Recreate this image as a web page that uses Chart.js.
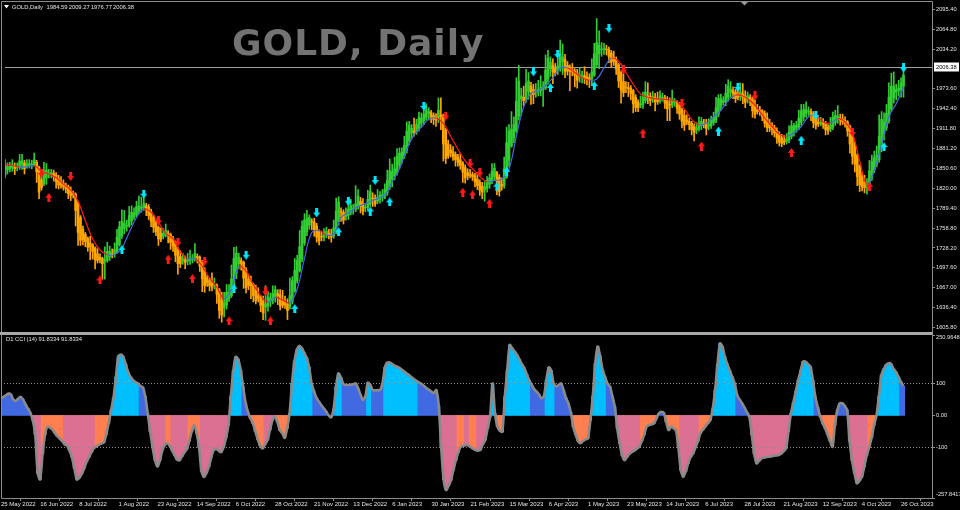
<!DOCTYPE html>
<html>
<head>
<meta charset="utf-8">
<script src="https://cdn.jsdelivr.net/npm/chart.js@4.4.0/dist/chart.umd.min.js"></script>
<style>
  html, body { margin: 0; padding: 0; background: #000; }
  #wrap { position: relative; width: 960px; height: 510px; background: #000; overflow: hidden; }
  #price { position: absolute; left: 0; top: 0; }
  #cci { position: absolute; left: 0; top: 334px; }
</style>
</head>
<body>
<div id="wrap">
  <canvas id="price" width="960" height="334"></canvas>
  <canvas id="cci" width="960" height="176"></canvas>
</div>
<script>
// GOLD daily, Heiken Ashi bars + smoothed MA + signal arrows, CCI(14) below
// one bar per trading day, 25 May 2022 .. 27 Oct 2023

const symbolName = 'GOLD,Daily';
const chartTitle = 'GOLD, Daily';
const lastBar = [1984.59, 2009.27, 1976.77, 2006.38];   // O H L C of the last bar
const cciLabel = 'D1 CCI (14) 91.8334 91.8334';

const dateTicks = ['25 May 2022', '16 Jun 2022', '8 Jul 2022', '1 Aug 2022', '23 Aug 2022', '14 Sep 2022',
  '6 Oct 2022', '28 Oct 2022', '21 Nov 2022', '13 Dec 2022', '6 Jan 2023', '30 Jan 2023', '21 Feb 2023',
  '15 Mar 2023', '6 Apr 2023', '1 May 2023', '23 May 2023', '14 Jun 2023', '6 Jul 2023', '28 Jul 2023',
  '21 Aug 2023', '12 Sep 2023', '4 Oct 2023', '26 Oct 2023'];
const barsPerTick = 16;

const priceTicks = [1605.8, 1636.4, 1667.0, 1697.6, 1728.2, 1758.8, 1789.4, 1820.0, 1850.6, 1881.2,
  1911.8, 1942.4, 1973.6, 2034.2, 2064.8, 2095.4];
const cciTicks = [-257.8417, -100, 0, 100, 250.9648];
const cciTickText = ['-257.8417', '-100', '0.00', '100', '250.9648'];
const cciLevels = [100, -100];

// Heiken Ashi body (open / close) and wick lengths above / below the body
const haOpen = [
  1840,1848,1850,1852,1854,1852,1852,1857,1859,1855, 1855,1856,1856,1860,1852,1833,1827,1836,1842,1842,
  1843,1840,1835,1830,1827,1824,1822,1817,1813,1811, 1798,1775,1757,1749,1743,1736,1733,1728,1719,1714,
  1712,1708,1709,1715,1719,1718,1722,1733,1747,1758, 1762,1762,1770,1776,1779,1785,1789,1790,1793,1791,
  1784,1776,1768,1760,1751,1746,1748,1751,1749,1743, 1737,1727,1715,1709,1710,1708,1709,1711,1711,1715,
  1714,1707,1694,1682,1678,1674,1671,1671,1664,1648, 1636,1640,1650,1655,1667,1689,1704,1709,1706,1694,
  1680,1675,1672,1663,1655,1653,1646,1637,1639,1646, 1648,1653,1658,1656,1648,1644,1642,1637,1646,1662,
  1678,1693,1711,1736,1753,1763,1769,1768,1762,1753, 1746,1745,1748,1751,1749,1747,1753,1769,1784,1783,
  1777,1778,1783,1788,1788,1792,1800,1796,1790,1790, 1796,1805,1804,1800,1803,1806,1808,1813,1822,1834,
  1839,1844,1856,1865,1870,1878,1893,1905,1908,1907, 1912,1920,1924,1929,1935,1936,1932,1929,1927,1933,
  1932,1910,1888,1879,1876,1872,1868,1864,1859,1852, 1844,1841,1841,1839,1834,1829,1823,1818,1820,1826,
  1831,1838,1844,1837,1826,1824,1837,1863,1885,1898, 1908,1931,1958,1960,1957,1969,1977,1972,1968,1968,
  1970,1972,1974,1988,2004,2009,2004,2001,2004,2015, 2018,2009,2004,2002,2000,1997,1991,1992,1993,1991,
  1990,1988,1994,2010,2027,2033,2034,2034,2033,2028, 2021,2018,2010,1998,1984,1976,1975,1974,1970,1960,
  1952,1948,1949,1955,1962,1961,1958,1960,1956,1955, 1958,1959,1955,1949,1948,1952,1953,1948,1941,1932,
  1925,1923,1920,1915,1910,1912,1916,1920,1920,1916, 1916,1921,1925,1934,1946,1952,1953,1960,1968,1970,
  1968,1963,1961,1965,1962,1957,1960,1957,1948,1941, 1940,1939,1935,1928,1920,1917,1913,1909,1903,1897,
  1893,1892,1894,1900,1908,1912,1914,1921,1930,1935, 1938,1938,1935,1928,1922,1920,1921,1919,1914,1911,
  1914,1921,1926,1928,1926,1924,1922,1915,1901,1885, 1871,1854,1839,1830,1825,1826,1836,1848,1857,1864,
  1882,1904,1913,1924,1942,1959,1968,1970,1972,1977];
const haClose = [
  1856,1853,1854,1856,1850,1853,1862,1862,1850,1856, 1858,1857,1864,1845,1814,1821,1846,1848,1843,1844,
  1838,1830,1825,1825,1822,1819,1812,1809,1810,1786, 1752,1740,1741,1738,1729,1730,1723,1710,1709,1710,
  1704,1710,1723,1723,1718,1726,1745,1761,1769,1766, 1763,1778,1783,1782,1792,1793,1791,1796,1790,1778,
  1769,1760,1753,1742,1742,1750,1755,1748,1737,1731, 1717,1704,1704,1711,1706,1710,1713,1712,1720,1713,
  1700,1681,1670,1675,1670,1668,1672,1657,1632,1625, 1644,1660,1660,1680,1712,1720,1714,1704,1682,1667,
  1670,1670,1655,1647,1651,1640,1628,1642,1653,1651, 1658,1664,1655,1639,1640,1641,1632,1655,1678,1694,
  1709,1730,1762,1771,1774,1775,1768,1756,1745,1739, 1745,1752,1754,1748,1745,1759,1785,1799,1783,1771,
  1780,1788,1793,1789,1796,1808,1792,1785,1791,1803, 1815,1804,1796,1806,1809,1810,1819,1832,1847,1845,
  1850,1869,1874,1876,1886,1908,1917,1912,1906,1918, 1929,1928,1934,1941,1938,1929,1926,1925,1940,1930,
  1888,1866,1870,1874,1869,1864,1860,1855,1845,1836, 1839,1840,1838,1830,1824,1817,1814,1822,1832,1836,
  1846,1851,1830,1815,1823,1850,1890,1908,1911,1918, 1954,1985,1962,1955,1981,1985,1967,1964,1969,1972,
  1975,1976,2002,2020,2014,1999,1997,2008,2027,2022, 2000,2000,2000,1999,1994,1986,1993,1994,1989,1989,
  1987,1999,2027,2044,2040,2034,2035,2033,2023,2014, 2015,2003,1985,1971,1967,1975,1973,1966,1950,1944,
  1944,1950,1960,1968,1960,1955,1961,1953,1953,1962, 1960,1951,1942,1948,1957,1954,1943,1934,1923,1917,
  1922,1918,1910,1906,1913,1920,1923,1919,1912,1917, 1925,1929,1944,1958,1958,1955,1966,1977,1972,1966,
  1958,1960,1968,1960,1952,1962,1955,1939,1934,1938, 1938,1930,1920,1913,1913,1910,1905,1897,1891,1889,
  1891,1896,1906,1916,1916,1917,1928,1939,1941,1941, 1939,1932,1921,1917,1919,1921,1918,1910,1909,1917,
  1929,1932,1931,1925,1922,1920,1908,1888,1869,1857, 1838,1825,1822,1821,1827,1847,1861,1867,1871,1900,
  1926,1922,1935,1960,1977,1977,1972,1974,1982,1994];
const wickUp = [
  8,6,6,8,5,6,10,10,4,8, 6,6,10,3,2,12,14,10,6,5, 5,4,5,8,6,4,3,5,3,2, 2,3,5,3,2,10,2,2,8,5,
  2,20,14,8,8,10,12,8,18,20, 8,14,10,8,8,15,15,10,4,4, 4,3,3,2,8,8,10,4,2,3, 2,2,9,9,6,10,12,6,15,4,
  2,2,4,4,4,16,10,2,2,12, 16,12,12,22,17,10,6,4,2,4, 8,10,2,8,12,2,8,28,8,8, 12,6,6,8,15,10,8,27,6,18,
  8,25,8,10,12,4,4,6,4,3, 8,6,6,6,8,12,20,8,6,4, 10,8,10,6,28,10,6,8,4,14, 10,8,6,12,6,8,8,16,18,12,
  18,12,8,6,14,14,6,6,20,8, 8,8,8,9,6,4,4,6,19,26, 2,2,6,8,8,4,4,10,2,4, 6,8,4,4,10,4,6,8,6,6,
  12,7,2,4,10,18,24,10,27,12, 36,24,12,17,22,13,6,8,12,14, 18,8,23,12,8,10,8,12,21,20, 8,6,6,10,4,6,12,6,14,8,
  6,20,16,37,22,10,8,6,4,4, 10,4,2,2,12,8,8,4,2,4, 4,12,8,16,20,6,8,6,12,8, 6,4,6,10,14,4,2,4,2,8,
  8,5,3,4,8,10,6,6,6,10, 6,8,16,6,7,6,14,10,12,6, 4,8,14,16,8,6,4,3,8,8, 6,2,4,8,6,4,4,4,4,6,
  8,8,10,8,4,6,12,10,8,12, 6,4,3,6,8,8,6,4,4,12, 8,8,16,6,8,6,2,2,2,6, 2,2,6,10,8,16,10,10,14,33,
  12,14,14,22,20,22,8,12,8,15];
const wickDown = [
  4,6,5,6,9,5,3,8,8,4, 4,6,2,16,10,4,3,10,6,6, 7,10,6,5,5,6,8,8,5,24, 20,8,8,8,6,20,12,14,4,5,
  24,28,3,6,5,4,2,2,4,8, 8,2,6,4,3,4,6,4,12,6, 8,8,6,10,4,4,3,12,11,8, 10,16,6,6,10,6,6,6,3,8,
  8,20,10,6,8,6,6,14,12,11, 14,6,4,3,2,8,8,10,16,8, 6,20,10,5,6,10,10,20,8,8, 6,8,14,6,4,6,14,3,4,2,
  4,2,4,4,6,6,12,10,8,6, 6,6,4,6,8,4,3,6,14,6, 6,6,4,8,4,4,10,6,6,4, 4,12,4,4,6,6,4,4,4,12,
  6,4,6,6,4,4,6,8,6,4, 4,6,6,4,10,8,8,10,6,20, 26,8,4,6,6,10,6,6,16,8, 6,4,6,8,6,8,10,18,6,6,
  4,6,20,7,6,4,2,10,2,8, 2,6,26,8,5,12,18,14,8,6, 8,26,2,8,12,18,4,6,4,20, 10,6,30,6,18,12,8,10,8,10,
  12,10,2,4,23,10,8,8,10,8, 6,8,10,20,6,8,12,10,14,6, 6,4,6,4,10,8,6,14,4,4, 4,8,18,24,4,6,8,8,10,8,
  4,8,8,13,6,4,6,6,10,6, 4,4,4,4,6,4,6,6,8,8, 6,4,6,10,8,6,8,10,6,4, 6,6,6,6,6,8,6,8,6,5,
  4,4,4,4,8,6,4,4,6,6, 6,8,8,6,4,4,6,8,6,4, 4,4,6,8,4,6,8,14,12,12, 14,10,6,8,14,2,4,4,4,4,
  6,10,4,4,4,8,12,8,12,17];

// smoothed moving average, read every 3rd bar
const maStep = 3;
const maValue = [
  1857,1855,1853,1853,1855,1846,1842,1836,1826,1817, 1800,1770,1742,1725,1718,1718,1728,1752,1775,1788,
  1783,1768,1751,1742,1722,1712,1712,1700,1682,1668, 1650,1665,1700,1692,1672,1655,1645,1652,1648,1644,
  1665,1712,1752,1755,1748,1750,1775,1782,1790,1795, 1800,1804,1810,1830,1850,1880,1902,1914,1926,1928,
  1920,1900,1880,1862,1850,1838,1830,1832,1834,1850, 1900,1945,1966,1970,1978,1990,2005,2005,1998,1990,
  1986,1988,2005,2020,2015,1998,1980,1965,1960,1958, 1957,1956,1953,1942,1926,1918,1920,1930,1940,1955,
  1963,1962,1955,1943,1928,1915,1903,1900,1905,1915, 1930,1932,1922,1920,1927,1922,1905,1862,1826,1848,
  1888,1930,1950,1975];

// signal arrows: bar index and price level
const cyanDownBar = [57, 99, 128, 141, 152, 172, 217, 227, 248, 301, 333, 369];
const cyanDownAt = [1811, 1717, 1782, 1800, 1832, 1946, 1999, 2026, 2066, 1975, 1932, 2005];
const cyanUpBar = [48, 94, 119, 137, 150, 158, 202, 206, 224, 242, 293, 327, 361];
const cyanUpAt = [1726, 1666, 1635, 1753, 1785, 1799, 1823, 1846, 1975, 1978, 1908, 1894, 1884];
const redDownBar = [15, 27, 63, 71, 82, 107, 181, 191, 195, 254, 278, 308, 348];
const redDownAt = [1843, 1838, 1770, 1737, 1708, 1661, 1931, 1858, 1844, 2002, 1950, 1962, 1906];
const redUpBar = [18, 39, 67, 77, 92, 109, 188, 192, 199, 262, 286, 323, 355];
const redUpAt = [1806, 1679, 1711, 1681, 1616, 1616, 1814, 1810, 1797, 1905, 1885, 1875, 1823];

// CCI(14) per bar
const cci = [
  53,58,63,68,66,50,45,52,58,50, 35,22,8,-15,-60,-180,-200,-120,-60,-35,
  -38,-44,-55,-65,-72,-80,-90,-95,-110,-130, -165,-200,-195,-183,-165,-145,-130,-115,-102,-97,
  -92,-88,-85,-60,-25,15,55,120,185,190, 183,160,135,120,110,104,100,92,88,60,
  6,-50,-100,-140,-160,-140,-108,-92,-87,-95, -110,-125,-138,-140,-128,-115,-105,-80,-50,-30,
  -55,-100,-175,-192,-180,-160,-130,-108,-105,-110, -115,-100,-70,-30,60,140,183,175,142,90,
  40,10,-10,-25,-50,-75,-95,-103,-90,-77, -45,-15,-2,-20,-46,-55,-70,-40,6,100,
  170,205,217,210,195,180,150,100,75,55, 43,32,22,12,0,-6,20,90,131,118,
  98,95,95,96,97,100,85,65,48,60, 102,95,79,78,79,79,100,150,165,165,
  160,155,152,148,142,136,130,125,118,113, 107,102,98,92,85,80,74,70,79,30,
  -100,-200,-233,-220,-202,-170,-140,-115,-98,-95, -92,-93,-98,-104,-108,-110,-108,-90,-77,-40,
  -4,100,6,-35,-48,-51,58,140,220,210, 200,189,175,160,148,128,110,95,82,74,
  65,53,60,110,150,140,100,90,95,100, 80,55,38,10,-35,-60,-80,-87,-80,-75,
  -72,-15,60,163,215,185,142,120,100,90, 60,27,-40,-87,-125,-140,-130,-120,-114,-110,
  -104,-98,-80,-60,-35,-30,-28,-25,-10,6, 11,8,-20,-46,-35,-40,-46,-100,-171,-192,
  -175,-150,-130,-119,-100,-80,-56,-45,-35,-25, -15,20,79,160,225,215,183,160,140,121,
  100,64,50,38,25,10,-4,-60,-120,-150, -142,-134,-132,-130,-129,-128,-126,-125,-124,-120,
  -112,-103,-50,6,40,75,110,140,168,168, 160,152,110,58,25,-4,-25,-40,-60,-80,
  -98,-30,17,38,38,30,17,-80,-140,-180, -212,-205,-192,-160,-125,-100,-70,-30,0,60,
  126,145,158,163,160,145,135,120,105,91.83];

// CCI histogram state runs: first bar of each run and its state
// LB strong up, RB weak up, PK strong down, OR weak down
const cciRunStart = [0,13,17,26,39,45,57,61,68,70, 77,82,94,99,102,108,113,118,128,137,
  140,150,152,157,171,180,187,190,192,195, 201,203,206,217,223,227,234,242,248,252,
  262,269,272,278,286,291,301,306,323,333, 335,342,347,355,359,368];
const cciRunState = ['RB','PK','OR','PK','OR','LB','RB','PK','OR','PK', 'OR','PK','LB','RB','OR','PK','OR','LB','RB','LB',
  'RB','LB','RB','LB','RB','PK','OR','PK','OR','PK', 'LB','OR','LB','RB','LB','RB','OR','LB','RB','PK',
  'OR','RB','OR','PK','OR','LB','RB','PK','LB','RB', 'OR','RB','PK','OR','LB','RB'];

// ---------- styling ----------
const bullColor = '#32cd32';
const bearColor = '#ffa500';
const maUpColor = '#4169e1';
const maDownColor = '#ff1a1a';
const cciFill = { LB: '#00bfff', RB: '#4169e1', PK: '#db7093', OR: '#ff7f50' };
const frameColor = '#8c8c8c';
const textColor = '#e4e4e4';

Chart.defaults.font.family = '"Liberation Sans", Arial, sans-serif';
Chart.defaults.color = textColor;

const barColor = i => (haClose[i] >= haOpen[i] ? bullColor : bearColor);
const stateOf = i => {
  let k = 0;
  while (k + 1 < cciRunStart.length && cciRunStart[k + 1] <= i) k++;
  return cciRunState[k];
};

function arrowImage(color, pointsUp) {
  const c = document.createElement('canvas');
  c.width = 7; c.height = 9;
  const g = c.getContext('2d');
  g.fillStyle = color;
  const pts = [[2, 0], [5, 0], [5, 4], [7, 4], [3.5, 9], [0, 4], [2, 4]];
  g.beginPath();
  pts.forEach(([px, py], k) => {
    const yy = pointsUp ? 9 - py : py;
    if (k) g.lineTo(px, yy); else g.moveTo(px, yy);
  });
  g.closePath();
  g.fill();
  return c;
}

function arrowSet(bars, levels, img) {
  return {
    type: 'scatter',
    data: bars.map((b, k) => ({ x: b, y: levels[k] })),
    pointStyle: img,
    pointRadius: 3,
    order: 0
  };
}

function line(ctx, x1, y1, x2, y2) {
  ctx.beginPath(); ctx.moveTo(x1, y1); ctx.lineTo(x2, y2); ctx.stroke();
}

const xRange = { min: 0, max: 380.7 };

// ---------- price panel ----------
const priceFrame = {
  id: 'priceFrame',
  beforeDatasetsDraw(chart) {
    const { ctx, chartArea: a, scales: { y } } = chart;
    ctx.save();
    ctx.fillStyle = '#737373';
    ctx.font = 'bold 36px "DejaVu Sans"';
    ctx.letterSpacing = '1px';
    ctx.textBaseline = 'alphabetic';
    ctx.fillText(chartTitle, 232, 55);
    ctx.letterSpacing = '0px';
    const py = Math.round(y.getPixelForValue(lastBar[3])) + 0.5;
    ctx.strokeStyle = '#a0a0a0';
    ctx.lineWidth = 1;
    line(ctx, a.left, py, a.right, py);
    ctx.restore();
  },
  afterDraw(chart) {
    const { ctx, chartArea: a, scales: { y } } = chart;
    ctx.save();
    ctx.strokeStyle = frameColor;
    ctx.lineWidth = 1;
    line(ctx, 1.5, 1.5, a.right + 0.5, 1.5);
    line(ctx, 1.5, 1.5, 1.5, 334);
    line(ctx, a.right + 0.5, 1.5, a.right + 0.5, 334);
    ctx.fillStyle = '#a8a8a8';
    ctx.fillRect(0, 332, a.right + 1, 2);
    // chart shift marker
    ctx.fillStyle = '#9a9a9a';
    ctx.beginPath(); ctx.moveTo(741, 2); ctx.lineTo(748, 2); ctx.lineTo(744.5, 5.5); ctx.closePath(); ctx.fill();
    // header line
    ctx.fillStyle = '#ffffff';
    ctx.beginPath(); ctx.moveTo(4, 5); ctx.lineTo(9, 5); ctx.lineTo(6.5, 8.5); ctx.closePath(); ctx.fill();
    ctx.font = '5.8px "Liberation Sans"';
    ctx.textBaseline = 'middle';
    ctx.fillStyle = textColor;
    ctx.fillText(symbolName, 12, 7);
    lastBar.forEach((v, k) => ctx.fillText(v.toFixed(2), 46.5 + k * 22.2, 7));
    // bid price label
    const py = Math.round(y.getPixelForValue(lastBar[3]));
    ctx.fillStyle = '#ffffff';
    ctx.fillRect(a.right + 2, py - 4.5, 25, 9);
    ctx.fillStyle = '#000000';
    ctx.font = '5.7px "Liberation Sans"';
    ctx.fillText(lastBar[3].toFixed(2), a.right + 4, py + 0.5);
    ctx.restore();
  }
};

const idx = haOpen.map((_, i) => i);

new Chart(document.getElementById('price'), {
  type: 'bar',
  data: {
    datasets: [
      arrowSet(cyanDownBar, cyanDownAt, arrowImage('#00e6ff', false)),
      arrowSet(cyanUpBar, cyanUpAt, arrowImage('#00e6ff', true)),
      arrowSet(redDownBar, redDownAt, arrowImage('#ff1a1a', false)),
      arrowSet(redUpBar, redUpAt, arrowImage('#ff1a1a', true)),
      {
        type: 'line',
        data: maValue.map((v, k) => ({ x: k * maStep, y: v })),
        borderWidth: 1.2,
        tension: 0.4,
        pointRadius: 0,
        segment: { borderColor: s => (s.p1.parsed.y >= s.p0.parsed.y ? maUpColor : maDownColor) },
        order: 1
      },
      {
        data: idx.map(i => ({ x: i, y: [haOpen[i], haClose[i]] })),
        backgroundColor: c => barColor(c.dataIndex),
        barThickness: 2,
        grouped: false,
        order: 2
      },
      {
        data: idx.map(i => ({
          x: i,
          y: [Math.min(haOpen[i], haClose[i]) - wickDown[i], Math.max(haOpen[i], haClose[i]) + wickUp[i]]
        })),
        backgroundColor: c => barColor(c.dataIndex),
        barThickness: 1,
        grouped: false,
        order: 3
      }
    ]
  },
  options: {
    responsive: false,
    animation: false,
    events: [],
    layout: { padding: { left: 1, top: 3, right: 0, bottom: 2 } },
    plugins: { legend: { display: false }, tooltip: { enabled: false } },
    scales: {
      x: { type: 'linear', min: xRange.min, max: xRange.max, offset: false, display: false },
      y: {
        position: 'right',
        min: 1603.5,
        max: 2101.9,
        afterBuildTicks: s => { s.ticks = priceTicks.map(v => ({ value: v })); },
        afterFit: s => { s.width = 28; s.paddingTop = 0; s.paddingBottom = 0; },
        ticks: { color: textColor, font: { size: 5.7 }, padding: 1, autoSkip: false, callback: v => v.toFixed(2) },
        grid: { display: true, drawOnChartArea: false, drawTicks: true, tickLength: 3, color: frameColor },
        border: { display: false }
      }
    }
  },
  plugins: [priceFrame]
});

// ---------- CCI panel ----------
const cciFrame = {
  id: 'cciFrame',
  afterDatasetsDraw(chart) {
    const { ctx, chartArea: a, scales: { y } } = chart;
    ctx.save();
    ctx.strokeStyle = frameColor;
    ctx.lineWidth = 1;
    ctx.setLineDash([1, 2]);
    cciLevels.forEach(v => {
      const py = Math.round(y.getPixelForValue(v)) + 0.5;
      line(ctx, a.left, py, a.right, py);
    });
    ctx.restore();
  },
  afterDraw(chart) {
    const { ctx, chartArea: a, scales: { y } } = chart;
    ctx.save();
    ctx.fillStyle = '#a8a8a8';
    ctx.fillRect(0, 0, a.right + 1, 1);
    ctx.strokeStyle = frameColor;
    ctx.lineWidth = 1;
    line(ctx, 1.5, 0, 1.5, a.bottom + 0.5);
    line(ctx, a.right + 0.5, 0, a.right + 0.5, a.bottom + 0.5);
    line(ctx, 1.5, a.bottom + 0.5, a.right + 0.5, a.bottom + 0.5);
    ctx.fillStyle = textColor;
    ctx.font = '5.8px "Liberation Sans"';
    ctx.textBaseline = 'middle';
    ctx.fillText(cciLabel, 6, 5);
    ctx.font = '5.7px "Liberation Sans"';
    cciTicks.forEach((v, k) => {
      const py = y.getPixelForValue(v);
      line(ctx, a.right, Math.round(py) + 0.5, a.right + 3, Math.round(py) + 0.5);
      const ty = Math.min(Math.max(py, a.top + 2.5), a.bottom - 4);
      ctx.fillText(cciTickText[k], a.right + 4, ty);
    });
    ctx.restore();
  }
};

new Chart(document.getElementById('cci'), {
  type: 'bar',
  data: {
    datasets: [
      {
        type: 'line',
        data: cci.map((v, i) => ({ x: i, y: v })),
        borderColor: '#8a8a8a',
        borderWidth: 2.6,
        pointRadius: 0,
        tension: 0.25,
        order: 0
      },
      {
        data: cci.map((v, i) => ({ x: i, y: v })),
        backgroundColor: c => cciFill[stateOf(c.dataIndex)],
        barThickness: 2.7,
        grouped: false,
        order: 1
      }
    ]
  },
  options: {
    responsive: false,
    animation: false,
    events: [],
    layout: { padding: { left: 1, top: 1, right: 0, bottom: 0 } },
    plugins: { legend: { display: false }, tooltip: { enabled: false } },
    scales: {
      x: {
        type: 'linear',
        min: xRange.min,
        max: xRange.max,
        offset: false,
        afterBuildTicks: s => { s.ticks = dateTicks.map((_, k) => ({ value: k * barsPerTick })); },
        afterFit: s => { s.height = 12; s.paddingLeft = 0; s.paddingRight = 0; },
        ticks: {
          align: 'start', autoSkip: false, maxRotation: 0, minRotation: 0, padding: 0,
          color: textColor, font: { size: 6 },
          callback: v => dateTicks[Math.round(v / barsPerTick)]
        },
        grid: { display: true, drawOnChartArea: false, drawTicks: true, tickLength: 3, color: frameColor },
        border: { display: false }
      },
      y: {
        position: 'right',
        min: -257.8417,
        max: 250.9648,
        afterFit: s => { s.width = 28; s.paddingTop = 0; s.paddingBottom = 0; },
        ticks: { display: false },
        grid: { display: false },
        border: { display: false }
      }
    }
  },
  plugins: [cciFrame]
});
</script>
</body>
</html>
